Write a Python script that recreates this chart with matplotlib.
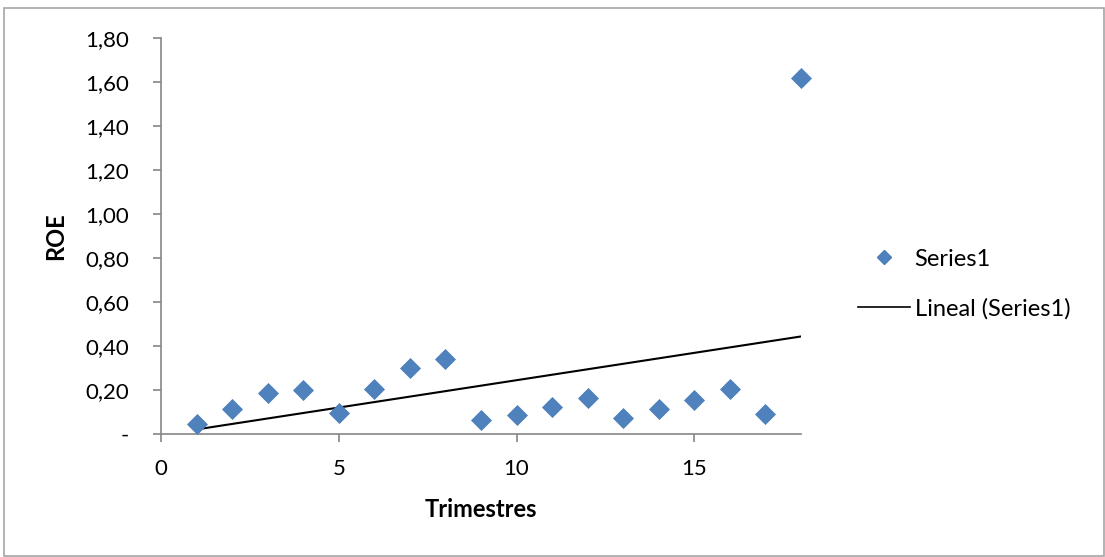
import matplotlib
matplotlib.use("Agg")
import matplotlib.pyplot as plt
import numpy as np
from matplotlib.patches import Rectangle
from matplotlib.lines import Line2D
from matplotlib.ticker import FuncFormatter

plt.rcParams['font.family'] = ['Lato', 'DejaVu Sans']

trimestres = [1, 2, 3, 4, 5, 6, 7, 8, 9, 10, 11, 12, 13, 14, 15, 16, 17, 18]
roe = [0.045, 0.114, 0.186, 0.200, 0.095, 0.205, 0.300, 0.340, 0.064,
       0.086, 0.123, 0.164, 0.073, 0.114, 0.155, 0.205, 0.091, 1.618]
y_ticks = [0, 0.2, 0.4, 0.6, 0.8, 1.0, 1.2, 1.4, 1.6, 1.8]
x_ticks = [0, 5, 10, 15]

W, H = 1105, 557
fig = plt.figure(figsize=(W / 100, H / 100), dpi=100)
fig.patch.set_facecolor('white')

# outer chart border
fig.patches.append(Rectangle((4 / W, 1 - 556 / H), 1100 / W, 548 / H,
                             transform=fig.transFigure, fill=False,
                             edgecolor='#a6a6a6', linewidth=1.2))

ax = fig.add_axes([161 / W, 1 - 434 / H, (801 - 161) / W, (434 - 38) / H])

blue = '#4F81BD'
ax.plot(trimestres, roe, linestyle='none', marker='D', markersize=10.5,
        markerfacecolor=blue, markeredgecolor='#4A7EBB', markeredgewidth=0.5,
        clip_on=False, zorder=3)

x = np.array(trimestres, dtype=float)
slope, intercept = np.polyfit(x, np.array(roe), 1)
ax.plot([x[0], x[-1]], [slope * x[0] + intercept, slope * x[-1] + intercept],
        color='black', linewidth=1.5, zorder=2)

ax.set_xlim(0, 18)
ax.set_ylim(0, 1.8)
ax.set_xticks(x_ticks)
ax.set_yticks(y_ticks)

def yfmt(v, pos):
    if abs(v) < 1e-9:
        return '-'
    return f"{v:.2f}".replace('.', ',')

ax.yaxis.set_major_formatter(FuncFormatter(yfmt))

for s in ['top', 'right']:
    ax.spines[s].set_visible(False)
for s in ['left', 'bottom']:
    ax.spines[s].set_color('#868686')
    ax.spines[s].set_linewidth(1.2)

ax.tick_params(axis='both', direction='out', length=6, width=1.2,
               color='#868686', labelsize=16, labelcolor='black')
ax.tick_params(axis='y', pad=17)
ax.tick_params(axis='x', pad=12)

ax.set_xlabel('Trimestres', fontsize=17, fontweight='bold', labelpad=14)
ax.set_ylabel('ROE', fontsize=17, fontweight='bold', labelpad=13)

handles = [Line2D([], [], linestyle='none', marker='D', markersize=7.5,
                  markerfacecolor=blue, markeredgecolor='#4A7EBB'),
           Line2D([], [], color='black', linewidth=1.2)]
fig.legend(handles, ['Series1', 'Lineal (Series1)'],
           loc='center left', bbox_to_anchor=(858 / W, 1 - 284 / H),
           frameon=False, fontsize=17, handlelength=2.2, borderpad=0,
           borderaxespad=0, handletextpad=0.2, labelspacing=1.2)

fig.savefig('out.png', dpi=100)
